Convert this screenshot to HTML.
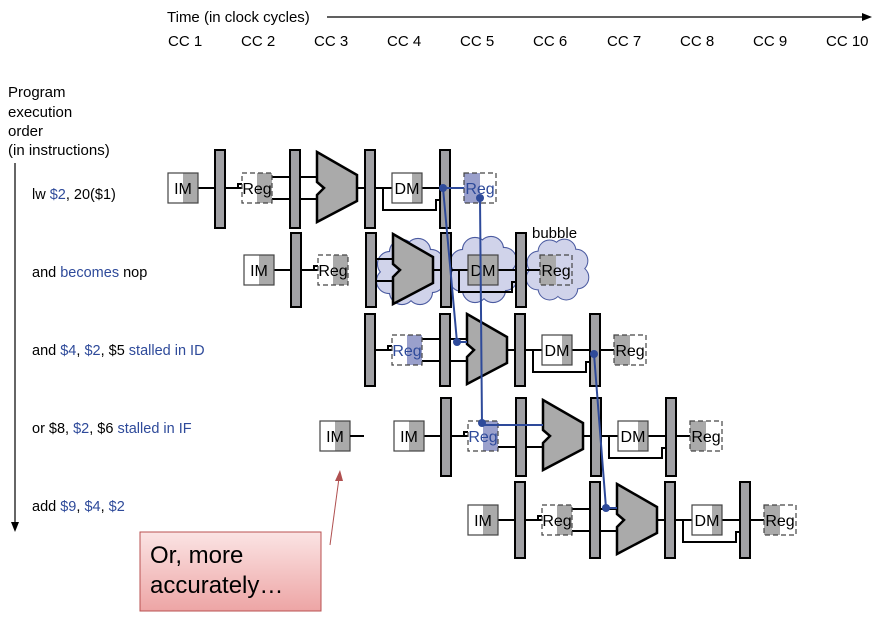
<!DOCTYPE html>
<html><head><meta charset="utf-8"><style>
html,body{margin:0;padding:0;background:#fff}
svg{display:block;font-family:"Liberation Sans",Arial,sans-serif}
</style></head><body>
<svg width="884" height="624" viewBox="0 0 884 624" xmlns="http://www.w3.org/2000/svg">
<defs>
<linearGradient id="pk" x1="0" y1="0" x2="0" y2="1"><stop offset="0" stop-color="#fbe4e4"/><stop offset="1" stop-color="#eda5a5"/></linearGradient>
<g id="im"><rect x="0" y="-15" width="30" height="30" fill="#fff"/><rect x="15" y="-15" width="15" height="30" fill="#aaa"/><rect x="0" y="-15" width="30" height="30" fill="none" stroke="#444" stroke-width="1.2"/></g>
<g id="regR"><rect x="15" y="-15" width="15" height="30" fill="#aaa"/><rect x="0" y="-15" width="30" height="30" fill="none" stroke="#444" stroke-width="1.2" stroke-dasharray="5,3"/></g>
<g id="regL"><rect x="0" y="-15" width="16" height="30" fill="#aaa"/><rect x="0" y="-15" width="32" height="30" fill="none" stroke="#444" stroke-width="1.2" stroke-dasharray="5,3"/></g>
<polygon id="alu" points="0,-36 40,-13 40,13 0,34 0,7 7,0 0,-6" fill="#aaa" stroke="#000" stroke-width="2.5"/>
<g id="dm"><rect x="0" y="-15" width="30" height="30" fill="#fff"/><rect x="20" y="-15" width="10" height="30" fill="#aaa"/><rect x="0" y="-15" width="30" height="30" fill="none" stroke="#444" stroke-width="1.2"/></g>
<g id="wires" fill="none" stroke="#000" stroke-width="2">
<path d="M30 0H47M57 0H74M70 0v-4h4M104 -11H149M104 11H149M189 0H224M254 0H296M215 0V22H268V12H272"/>
</g>
<g id="cloudA">
<circle cx="-20" cy="-8" r="12"/><circle cx="-8" cy="-20" r="12"/><circle cx="8" cy="-21" r="12"/><circle cx="21" cy="-10" r="12"/>
<circle cx="22" cy="8" r="12"/><circle cx="10" cy="20" r="12"/><circle cx="-8" cy="20" r="12"/><circle cx="-21" cy="9" r="12"/><circle cx="0" cy="0" r="20"/>
</g>
</defs>

<!-- header -->
<text x="167" y="22" font-size="15">Time (in clock cycles)</text>
<line x1="327" y1="17" x2="864" y2="17" stroke="#000" stroke-width="1.2"/>
<polygon points="872,17 862,13 862,21" fill="#000"/>
<g font-size="15">
<text x="168" y="46">CC 1</text><text x="241" y="46">CC 2</text><text x="314" y="46">CC 3</text><text x="387" y="46">CC 4</text><text x="460" y="46">CC 5</text><text x="533" y="46">CC 6</text><text x="607" y="46">CC 7</text><text x="680" y="46">CC 8</text><text x="753" y="46">CC 9</text><text x="826" y="46">CC 10</text>
<text x="8" y="97">Program</text><text x="8" y="117">execution</text><text x="8" y="136">order</text><text x="8" y="155">(in instructions)</text>
</g>
<line x1="15" y1="163" x2="15" y2="524" stroke="#000" stroke-width="1.2"/>
<polygon points="15,532 11,522 19,522" fill="#000"/>
<g font-size="14.5" fill="#000">
<text x="32" y="199">lw <tspan fill="#2e4a9a">$2</tspan>, 20($1)</text>
<text x="32" y="277">and <tspan fill="#2e4a9a">becomes</tspan> nop</text>
<text x="32" y="355">and <tspan fill="#2e4a9a">$4</tspan>, <tspan fill="#2e4a9a">$2</tspan>, $5 <tspan fill="#2e4a9a">stalled in ID</tspan></text>
<text x="32" y="433">or $8, <tspan fill="#2e4a9a">$2</tspan>, $6 <tspan fill="#2e4a9a">stalled in IF</tspan></text>
<text x="32" y="511">add <tspan fill="#2e4a9a">$9</tspan>, <tspan fill="#2e4a9a">$4</tspan>, <tspan fill="#2e4a9a">$2</tspan></text>
</g>

<!-- row 1 -->
<g transform="translate(168,188)" font-size="16">
<use href="#wires"/>
<use href="#im"/><text x="15" y="6" text-anchor="middle">IM</text>
<rect x="47" y="-38" width="10" height="78" fill="#a0a0a4" stroke="#000" stroke-width="2"/>
<use href="#regR" x="74"/><text x="89" y="6" text-anchor="middle">Reg</text>
<rect x="122" y="-38" width="10" height="78" fill="#a0a0a4" stroke="#000" stroke-width="2"/>
<use href="#alu" x="149"/>
<rect x="197" y="-38" width="10" height="78" fill="#a0a0a4" stroke="#000" stroke-width="2"/>
<use href="#dm" x="224"/><text x="239" y="6" text-anchor="middle">DM</text>
<rect x="272" y="-38" width="10" height="78" fill="#a0a0a4" stroke="#000" stroke-width="2"/>
<rect x="296" y="-15" width="16" height="30" fill="#9aa0cc"/><rect x="296" y="-15" width="32" height="30" fill="none" stroke="#444" stroke-width="1.2" stroke-dasharray="5,3"/>
<text x="312" y="6" text-anchor="middle" fill="#2e4a9a">Reg</text>
</g>

<!-- row 2 (bubble) -->
<g transform="translate(244,270)" font-size="16">
<g stroke="#4a5aa0" stroke-width="2.2" fill="#d0d3ea">
<use href="#cloudA" x="166" y="2"/>
<use href="#cloudA" x="239" y="0"/>
<use href="#cloudA" x="313" y="0" transform="translate(313,0) scale(0.92) translate(-313,0)"/>
</g>
<g fill="#d0d3ea" stroke="none">
<use href="#cloudA" x="166" y="2"/>
<use href="#cloudA" x="239" y="0"/>
<use href="#cloudA" x="313" y="0" transform="translate(313,0) scale(0.92) translate(-313,0)"/>
</g>
<g fill="none" stroke="#000" stroke-width="2"><path d="M30 0H47M57 0H74M70 0v-4h4M132 -11H149M132 11H149M189 0H224M254 0H272M215 0V22H268V12H272M282 0H296"/></g>
<use href="#im"/><text x="15" y="6" text-anchor="middle">IM</text>
<rect x="47" y="-37" width="10" height="74" fill="#a0a0a4" stroke="#000" stroke-width="2"/>
<use href="#regR" x="74"/><text x="89" y="6" text-anchor="middle">Reg</text>
<rect x="122" y="-37" width="10" height="74" fill="#a0a0a4" stroke="#000" stroke-width="2"/>
<use href="#alu" x="149"/>
<rect x="197" y="-37" width="10" height="74" fill="#a0a0a4" stroke="#000" stroke-width="2"/>
<rect x="224" y="-15" width="30" height="30" fill="#aaa" stroke="#444" stroke-width="1.2"/><text x="239" y="6" text-anchor="middle">DM</text>
<rect x="272" y="-37" width="10" height="74" fill="#a0a0a4" stroke="#000" stroke-width="2"/>
<use href="#regL" x="296"/><text x="312" y="6" text-anchor="middle">Reg</text>
<text x="288" y="-32" font-size="15">bubble</text>
</g>

<!-- row 3 -->
<g transform="translate(318,350)" font-size="16">
<g fill="none" stroke="#000" stroke-width="2"><path d="M57 0H74M70 0v-4h4M104 -11H149M104 11H149M189 0H224M254 0H296M215 0V22H268V12H272"/></g>
<rect x="47" y="-36" width="10" height="72" fill="#a0a0a4" stroke="#000" stroke-width="2"/>
<rect x="89" y="-15" width="15" height="30" fill="#9aa0cc"/><rect x="74" y="-15" width="30" height="30" fill="none" stroke="#444" stroke-width="1.2" stroke-dasharray="5,3"/>
<text x="89" y="6" text-anchor="middle" fill="#2e4a9a">Reg</text>
<rect x="122" y="-36" width="10" height="72" fill="#a0a0a4" stroke="#000" stroke-width="2"/>
<use href="#alu" x="149"/>
<rect x="197" y="-36" width="10" height="72" fill="#a0a0a4" stroke="#000" stroke-width="2"/>
<use href="#dm" x="224"/><text x="239" y="6" text-anchor="middle">DM</text>
<rect x="272" y="-36" width="10" height="72" fill="#a0a0a4" stroke="#000" stroke-width="2"/>
<use href="#regL" x="296"/><text x="312" y="6" text-anchor="middle">Reg</text>
</g>

<!-- row 4 -->
<g transform="translate(320,436)" font-size="16">
<use href="#im"/><text x="15" y="6" text-anchor="middle">IM</text>
<line x1="30" y1="0" x2="44" y2="0" stroke="#000" stroke-width="2"/>
</g>
<g transform="translate(394,436)" font-size="16">
<use href="#wires"/>
<use href="#im"/><text x="15" y="6" text-anchor="middle">IM</text>
<rect x="47" y="-38" width="10" height="78" fill="#a0a0a4" stroke="#000" stroke-width="2"/>
<rect x="89" y="-15" width="15" height="30" fill="#9aa0cc"/><rect x="74" y="-15" width="30" height="30" fill="none" stroke="#444" stroke-width="1.2" stroke-dasharray="5,3"/>
<text x="89" y="6" text-anchor="middle" fill="#2e4a9a">Reg</text>
<rect x="122" y="-38" width="10" height="78" fill="#a0a0a4" stroke="#000" stroke-width="2"/>
<use href="#alu" x="149"/>
<rect x="197" y="-38" width="10" height="78" fill="#a0a0a4" stroke="#000" stroke-width="2"/>
<use href="#dm" x="224"/><text x="239" y="6" text-anchor="middle">DM</text>
<rect x="272" y="-38" width="10" height="78" fill="#a0a0a4" stroke="#000" stroke-width="2"/>
<use href="#regL" x="296"/><text x="312" y="6" text-anchor="middle">Reg</text>
</g>

<!-- row 5 -->
<g transform="translate(468,520)" font-size="16">
<use href="#wires"/>
<use href="#im"/><text x="15" y="6" text-anchor="middle">IM</text>
<rect x="47" y="-38" width="10" height="76" fill="#a0a0a4" stroke="#000" stroke-width="2"/>
<use href="#regR" x="74"/><text x="89" y="6" text-anchor="middle">Reg</text>
<rect x="122" y="-38" width="10" height="76" fill="#a0a0a4" stroke="#000" stroke-width="2"/>
<use href="#alu" x="149"/>
<rect x="197" y="-38" width="10" height="76" fill="#a0a0a4" stroke="#000" stroke-width="2"/>
<use href="#dm" x="224"/><text x="239" y="6" text-anchor="middle">DM</text>
<rect x="272" y="-38" width="10" height="76" fill="#a0a0a4" stroke="#000" stroke-width="2"/>
<use href="#regL" x="296"/><text x="312" y="6" text-anchor="middle">Reg</text>
</g>

<!-- blue forwarding lines -->
<g stroke="#2e4a9a" stroke-width="2" fill="none">
<path d="M443 188H464"/>
<path d="M443 188L457 342H467"/>
<path d="M480 198L482 425H543"/>
<path d="M594 354L606 508H617"/>
</g>
<g fill="#2e4a9a">
<circle cx="443" cy="188" r="4"/><circle cx="480" cy="198" r="4"/><circle cx="457" cy="342" r="4"/>
<circle cx="482" cy="423" r="4"/><circle cx="594" cy="354" r="4"/><circle cx="606" cy="508" r="4"/>
</g>

<!-- callout -->
<line x1="330" y1="545" x2="339" y2="478" stroke="#b05050" stroke-width="1"/>
<polygon points="340,470 335,481 343,481" fill="#b05050"/>
<rect x="140" y="532" width="181" height="79" fill="url(#pk)" stroke="#b85050" stroke-width="1"/>
<text x="150" y="563" font-size="24">Or, more</text>
<text x="150" y="593" font-size="24">accurately…</text>
</svg>
</body></html>
